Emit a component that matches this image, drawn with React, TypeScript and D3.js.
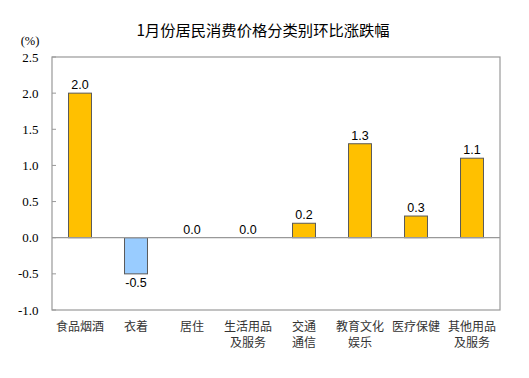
import React from "react";
import * as d3 from "d3";

const categories = ["食品烟酒", "衣着", "居住", "生活用品\n及服务", "交通\n通信", "教育文化\n娱乐", "医疗保健", "其他用品\n及服务"];
const values = [2.0, -0.5, 0.0, 0.0, 0.2, 1.3, 0.3, 1.1];
const yTicks = [2.5, 2.0, 1.5, 1.0, 0.5, 0.0, -0.5, -1.0];
const title = "1月份居民消费价格分类别环比涨跌幅";
const unit = "(%)";

export default function App() {
  const W = 529, H = 378;
  const left = 52, right = 500, top = 57, bottom = 310;
  const x = d3.scaleBand<string>().domain(categories).range([left, right]).paddingInner(0.59).paddingOuter(0.295);
  const y = d3.scaleLinear().domain([-1, 2.5]).range([bottom, top]);
  const bw = x.bandwidth();
  const cjk = "'Noto Sans CJK SC', sans-serif";
  return (
    <svg width={W} height={H} style={{ position: "absolute", left: 0, top: 0, background: "#fff" }}>
      <rect x={0} y={0} width={W} height={H} fill="#fff" />
      <text x={263} y={36} textAnchor="middle" fontFamily={cjk} fontSize={15.3} fill="#000">{title}</text>
      <text x={30} y={45} textAnchor="middle" fontFamily="'Liberation Serif', serif" fontSize={12.5} fill="#000">{unit}</text>
      <rect x={left} y={top} width={right - left} height={bottom - top} fill="none" stroke="#999" strokeWidth={1.2} />
      {yTicks.map((t) => (
        <g key={t}>
          <line x1={left} x2={left + 4} y1={y(t)} y2={y(t)} stroke="#999" />
          <text x={38.5} y={y(t) + 4.5} textAnchor="end" fontFamily="'Liberation Serif', serif" fontSize={13} fill="#000">{t.toFixed(1)}</text>
        </g>
      ))}
      {categories.map((c, i) => {
        const v = values[i];
        const bx = x(c)!;
        const y0 = y(0), y1 = y(v);
        const neg = v < 0;
        return (
          <g key={c}>
            {v !== 0 && (
              <rect x={bx} y={Math.min(y0, y1)} width={bw} height={Math.abs(y1 - y0)}
                fill={neg ? "#99CCFF" : "#FFC000"} stroke="#595959" strokeWidth={1} />
            )}
            <text x={bx + bw / 2} y={neg ? y1 + 13 : y1 - 4} textAnchor="middle" fontFamily="'Liberation Sans', Arial, sans-serif" fontSize={12.5} fill="#000">{v.toFixed(1)}</text>
          </g>
        );
      })}
      <line x1={left} x2={right} y1={y(0)} y2={y(0)} stroke="#999" strokeWidth={1.2} />
      {categories.map((c) => {
        const lines = c.split("\n");
        const cx = x(c)! + bw / 2;
        return (
          <text key={c} textAnchor="middle" fontFamily={cjk} fontSize={12} fill="#333">
            {lines.map((l, j) => (
              <tspan key={j} x={cx} y={331 + j * 16}>{l}</tspan>
            ))}
          </text>
        );
      })}
    </svg>
  );
}
